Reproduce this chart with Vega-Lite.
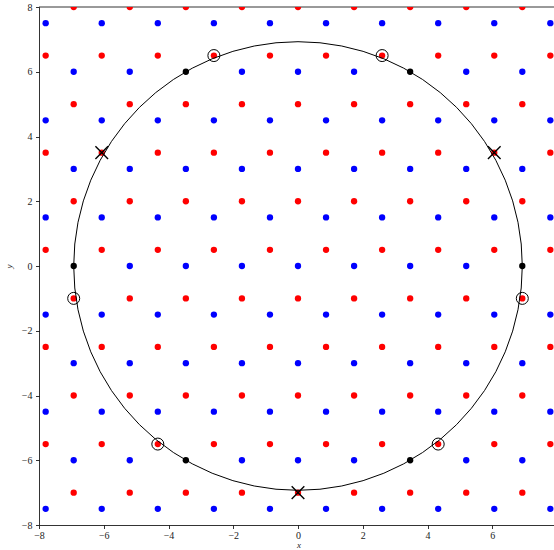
{
  "$schema": "https://vega.github.io/schema/vega-lite/v6.json",
  "width": 515,
  "height": 518,
  "autosize": {"type": "none"},
  "padding": {"left": 39, "top": 7, "right": 0, "bottom": 25},
  "background": "white",
  "config": {
    "view": {"stroke": null},
    "axis": {
      "grid": false,
      "domainColor": "black",
      "domainWidth": 0.8,
      "tickColor": "black",
      "tickWidth": 0.8,
      "tickSize": 3.5,
      "labelFont": "Liberation Serif",
      "labelFontSize": 10,
      "labelColor": "#222",
      "titleFont": "Liberation Serif",
      "titleFontSize": 9,
      "titleFontStyle": "italic",
      "titleFontWeight": "normal",
      "titleColor": "#222"
    }
  },
  "datasets": {
    "lattice": [
      {"x":-7.7942,"y":-7.5,"s":"A"},{"x":-7.7942,"y":-4.5,"s":"A"},{"x":-7.7942,"y":-1.5,"s":"A"},{"x":-7.7942,"y":1.5,"s":"A"},{"x":-7.7942,"y":4.5,"s":"A"},{"x":-7.7942,"y":7.5,"s":"A"},
      {"x":-7.7942,"y":-5.5,"s":"B"},{"x":-7.7942,"y":-2.5,"s":"B"},{"x":-7.7942,"y":0.5,"s":"B"},{"x":-7.7942,"y":3.5,"s":"B"},{"x":-7.7942,"y":6.5,"s":"B"},

      {"x":-6.9282,"y":-6,"s":"A"},{"x":-6.9282,"y":-3,"s":"A"},{"x":-6.9282,"y":0,"s":"C"},{"x":-6.9282,"y":3,"s":"A"},{"x":-6.9282,"y":6,"s":"A"},
      {"x":-6.9282,"y":-7,"s":"B"},{"x":-6.9282,"y":-4,"s":"B"},{"x":-6.9282,"y":-1,"s":"B"},{"x":-6.9282,"y":2,"s":"B"},{"x":-6.9282,"y":5,"s":"B"},{"x":-6.9282,"y":8,"s":"B"},

      {"x":-6.0622,"y":-7.5,"s":"A"},{"x":-6.0622,"y":-4.5,"s":"A"},{"x":-6.0622,"y":-1.5,"s":"A"},{"x":-6.0622,"y":1.5,"s":"A"},{"x":-6.0622,"y":4.5,"s":"A"},{"x":-6.0622,"y":7.5,"s":"A"},
      {"x":-6.0622,"y":-5.5,"s":"B"},{"x":-6.0622,"y":-2.5,"s":"B"},{"x":-6.0622,"y":0.5,"s":"B"},{"x":-6.0622,"y":3.5,"s":"B"},{"x":-6.0622,"y":6.5,"s":"B"},

      {"x":-5.1962,"y":-6,"s":"A"},{"x":-5.1962,"y":-3,"s":"A"},{"x":-5.1962,"y":0,"s":"A"},{"x":-5.1962,"y":3,"s":"A"},{"x":-5.1962,"y":6,"s":"A"},
      {"x":-5.1962,"y":-7,"s":"B"},{"x":-5.1962,"y":-4,"s":"B"},{"x":-5.1962,"y":-1,"s":"B"},{"x":-5.1962,"y":2,"s":"B"},{"x":-5.1962,"y":5,"s":"B"},{"x":-5.1962,"y":8,"s":"B"},

      {"x":-4.3301,"y":-7.5,"s":"A"},{"x":-4.3301,"y":-4.5,"s":"A"},{"x":-4.3301,"y":-1.5,"s":"A"},{"x":-4.3301,"y":1.5,"s":"A"},{"x":-4.3301,"y":4.5,"s":"A"},{"x":-4.3301,"y":7.5,"s":"A"},
      {"x":-4.3301,"y":-5.5,"s":"B"},{"x":-4.3301,"y":-2.5,"s":"B"},{"x":-4.3301,"y":0.5,"s":"B"},{"x":-4.3301,"y":3.5,"s":"B"},{"x":-4.3301,"y":6.5,"s":"B"},

      {"x":-3.4641,"y":-6,"s":"C"},{"x":-3.4641,"y":-3,"s":"A"},{"x":-3.4641,"y":0,"s":"A"},{"x":-3.4641,"y":3,"s":"A"},{"x":-3.4641,"y":6,"s":"C"},
      {"x":-3.4641,"y":-7,"s":"B"},{"x":-3.4641,"y":-4,"s":"B"},{"x":-3.4641,"y":-1,"s":"B"},{"x":-3.4641,"y":2,"s":"B"},{"x":-3.4641,"y":5,"s":"B"},{"x":-3.4641,"y":8,"s":"B"},

      {"x":-2.5981,"y":-7.5,"s":"A"},{"x":-2.5981,"y":-4.5,"s":"A"},{"x":-2.5981,"y":-1.5,"s":"A"},{"x":-2.5981,"y":1.5,"s":"A"},{"x":-2.5981,"y":4.5,"s":"A"},{"x":-2.5981,"y":7.5,"s":"A"},
      {"x":-2.5981,"y":-5.5,"s":"B"},{"x":-2.5981,"y":-2.5,"s":"B"},{"x":-2.5981,"y":0.5,"s":"B"},{"x":-2.5981,"y":3.5,"s":"B"},{"x":-2.5981,"y":6.5,"s":"B"},

      {"x":-1.7321,"y":-6,"s":"A"},{"x":-1.7321,"y":-3,"s":"A"},{"x":-1.7321,"y":0,"s":"A"},{"x":-1.7321,"y":3,"s":"A"},{"x":-1.7321,"y":6,"s":"A"},
      {"x":-1.7321,"y":-7,"s":"B"},{"x":-1.7321,"y":-4,"s":"B"},{"x":-1.7321,"y":-1,"s":"B"},{"x":-1.7321,"y":2,"s":"B"},{"x":-1.7321,"y":5,"s":"B"},{"x":-1.7321,"y":8,"s":"B"},

      {"x":-0.866,"y":-7.5,"s":"A"},{"x":-0.866,"y":-4.5,"s":"A"},{"x":-0.866,"y":-1.5,"s":"A"},{"x":-0.866,"y":1.5,"s":"A"},{"x":-0.866,"y":4.5,"s":"A"},{"x":-0.866,"y":7.5,"s":"A"},
      {"x":-0.866,"y":-5.5,"s":"B"},{"x":-0.866,"y":-2.5,"s":"B"},{"x":-0.866,"y":0.5,"s":"B"},{"x":-0.866,"y":3.5,"s":"B"},{"x":-0.866,"y":6.5,"s":"B"},

      {"x":0,"y":-6,"s":"A"},{"x":0,"y":-3,"s":"A"},{"x":0,"y":0,"s":"A"},{"x":0,"y":3,"s":"A"},{"x":0,"y":6,"s":"A"},
      {"x":0,"y":-7,"s":"B"},{"x":0,"y":-4,"s":"B"},{"x":0,"y":-1,"s":"B"},{"x":0,"y":2,"s":"B"},{"x":0,"y":5,"s":"B"},{"x":0,"y":8,"s":"B"},

      {"x":0.866,"y":-7.5,"s":"A"},{"x":0.866,"y":-4.5,"s":"A"},{"x":0.866,"y":-1.5,"s":"A"},{"x":0.866,"y":1.5,"s":"A"},{"x":0.866,"y":4.5,"s":"A"},{"x":0.866,"y":7.5,"s":"A"},
      {"x":0.866,"y":-5.5,"s":"B"},{"x":0.866,"y":-2.5,"s":"B"},{"x":0.866,"y":0.5,"s":"B"},{"x":0.866,"y":3.5,"s":"B"},{"x":0.866,"y":6.5,"s":"B"},

      {"x":1.7321,"y":-6,"s":"A"},{"x":1.7321,"y":-3,"s":"A"},{"x":1.7321,"y":0,"s":"A"},{"x":1.7321,"y":3,"s":"A"},{"x":1.7321,"y":6,"s":"A"},
      {"x":1.7321,"y":-7,"s":"B"},{"x":1.7321,"y":-4,"s":"B"},{"x":1.7321,"y":-1,"s":"B"},{"x":1.7321,"y":2,"s":"B"},{"x":1.7321,"y":5,"s":"B"},{"x":1.7321,"y":8,"s":"B"},

      {"x":2.5981,"y":-7.5,"s":"A"},{"x":2.5981,"y":-4.5,"s":"A"},{"x":2.5981,"y":-1.5,"s":"A"},{"x":2.5981,"y":1.5,"s":"A"},{"x":2.5981,"y":4.5,"s":"A"},{"x":2.5981,"y":7.5,"s":"A"},
      {"x":2.5981,"y":-5.5,"s":"B"},{"x":2.5981,"y":-2.5,"s":"B"},{"x":2.5981,"y":0.5,"s":"B"},{"x":2.5981,"y":3.5,"s":"B"},{"x":2.5981,"y":6.5,"s":"B"},

      {"x":3.4641,"y":-6,"s":"C"},{"x":3.4641,"y":-3,"s":"A"},{"x":3.4641,"y":0,"s":"A"},{"x":3.4641,"y":3,"s":"A"},{"x":3.4641,"y":6,"s":"C"},
      {"x":3.4641,"y":-7,"s":"B"},{"x":3.4641,"y":-4,"s":"B"},{"x":3.4641,"y":-1,"s":"B"},{"x":3.4641,"y":2,"s":"B"},{"x":3.4641,"y":5,"s":"B"},{"x":3.4641,"y":8,"s":"B"},

      {"x":4.3301,"y":-7.5,"s":"A"},{"x":4.3301,"y":-4.5,"s":"A"},{"x":4.3301,"y":-1.5,"s":"A"},{"x":4.3301,"y":1.5,"s":"A"},{"x":4.3301,"y":4.5,"s":"A"},{"x":4.3301,"y":7.5,"s":"A"},
      {"x":4.3301,"y":-5.5,"s":"B"},{"x":4.3301,"y":-2.5,"s":"B"},{"x":4.3301,"y":0.5,"s":"B"},{"x":4.3301,"y":3.5,"s":"B"},{"x":4.3301,"y":6.5,"s":"B"},

      {"x":5.1962,"y":-6,"s":"A"},{"x":5.1962,"y":-3,"s":"A"},{"x":5.1962,"y":0,"s":"A"},{"x":5.1962,"y":3,"s":"A"},{"x":5.1962,"y":6,"s":"A"},
      {"x":5.1962,"y":-7,"s":"B"},{"x":5.1962,"y":-4,"s":"B"},{"x":5.1962,"y":-1,"s":"B"},{"x":5.1962,"y":2,"s":"B"},{"x":5.1962,"y":5,"s":"B"},{"x":5.1962,"y":8,"s":"B"},

      {"x":6.0622,"y":-7.5,"s":"A"},{"x":6.0622,"y":-4.5,"s":"A"},{"x":6.0622,"y":-1.5,"s":"A"},{"x":6.0622,"y":1.5,"s":"A"},{"x":6.0622,"y":4.5,"s":"A"},{"x":6.0622,"y":7.5,"s":"A"},
      {"x":6.0622,"y":-5.5,"s":"B"},{"x":6.0622,"y":-2.5,"s":"B"},{"x":6.0622,"y":0.5,"s":"B"},{"x":6.0622,"y":3.5,"s":"B"},{"x":6.0622,"y":6.5,"s":"B"},

      {"x":6.9282,"y":-6,"s":"A"},{"x":6.9282,"y":-3,"s":"A"},{"x":6.9282,"y":0,"s":"C"},{"x":6.9282,"y":3,"s":"A"},{"x":6.9282,"y":6,"s":"A"},
      {"x":6.9282,"y":-7,"s":"B"},{"x":6.9282,"y":-4,"s":"B"},{"x":6.9282,"y":-1,"s":"B"},{"x":6.9282,"y":2,"s":"B"},{"x":6.9282,"y":5,"s":"B"},{"x":6.9282,"y":8,"s":"B"},

      {"x":7.7942,"y":-7.5,"s":"A"},{"x":7.7942,"y":-4.5,"s":"A"},{"x":7.7942,"y":-1.5,"s":"A"},{"x":7.7942,"y":1.5,"s":"A"},{"x":7.7942,"y":4.5,"s":"A"},{"x":7.7942,"y":7.5,"s":"A"},
      {"x":7.7942,"y":-5.5,"s":"B"},{"x":7.7942,"y":-2.5,"s":"B"},{"x":7.7942,"y":0.5,"s":"B"},{"x":7.7942,"y":3.5,"s":"B"},{"x":7.7942,"y":6.5,"s":"B"}
    ],
    "ring": [{"x": 0, "y": 0}],
    "marked": [
      {"x":-6.9282,"y":-1,"m":"o"},{"x":6.9282,"y":-1,"m":"o"},
      {"x":-2.5981,"y":6.5,"m":"o"},{"x":2.5981,"y":6.5,"m":"o"},
      {"x":-4.3301,"y":-5.5,"m":"o"},{"x":4.3301,"y":-5.5,"m":"o"},
      {"x":-6.0622,"y":3.5,"m":"x"},{"x":6.0622,"y":3.5,"m":"x"},
      {"x":0,"y":-7,"m":"x"}
    ],
    "frame": [{"top": 8}]
  },
  "encoding": {
    "x": {"field": "x", "type": "quantitative",
      "scale": {"domain": [-8, 7.9073], "nice": false, "zero": false},
      "axis": {"values": [-8, -6, -4, -2, 0, 2, 4, 6], "title": "x", "labelFlush": false, "labelPadding": 2, "titlePadding": 0, "titleX": 259.5}},
    "y": {"field": "y", "type": "quantitative",
      "scale": {"domain": [-8, 8], "nice": false, "zero": false},
      "axis": {"values": [-8, -6, -4, -2, 0, 2, 4, 6, 8], "title": "y", "labelPadding": 3.5, "titlePadding": 8}}
  },
  "layer": [
    {
      "data": {"name": "frame"},
      "mark": {"type": "rule", "color": "black", "strokeWidth": 0.8},
      "encoding": {"x": null, "y": {"field": "top", "type": "quantitative"}}
    },
    {
      "data": {"name": "lattice"},
      "mark": {"type": "point", "filled": true, "opacity": 1, "size": 40, "clip": true},
      "encoding": {
        "color": {"field": "s", "type": "nominal",
          "scale": {"domain": ["A", "B", "C"], "range": ["#0000ff", "#ff0000", "#000000"]},
          "legend": null}
      }
    },
    {
      "data": {"name": "ring"},
      "mark": {"type": "point", "shape": "circle", "filled": false, "size": 201242, "stroke": "black", "strokeWidth": 1, "opacity": 1}
    },
    {
      "data": {"name": "marked"},
      "transform": [{"filter": "datum.m === 'o'"}],
      "mark": {"type": "point", "shape": "circle", "filled": false, "size": 144, "stroke": "black", "strokeWidth": 1, "opacity": 1}
    },
    {
      "data": {"name": "marked"},
      "transform": [{"filter": "datum.m === 'x'"}],
      "mark": {"type": "point", "shape": "M-1,-1L1,1M-1,1L1,-1", "filled": false, "size": 160, "stroke": "black", "strokeWidth": 1.4, "opacity": 1}
    }
  ]
}
